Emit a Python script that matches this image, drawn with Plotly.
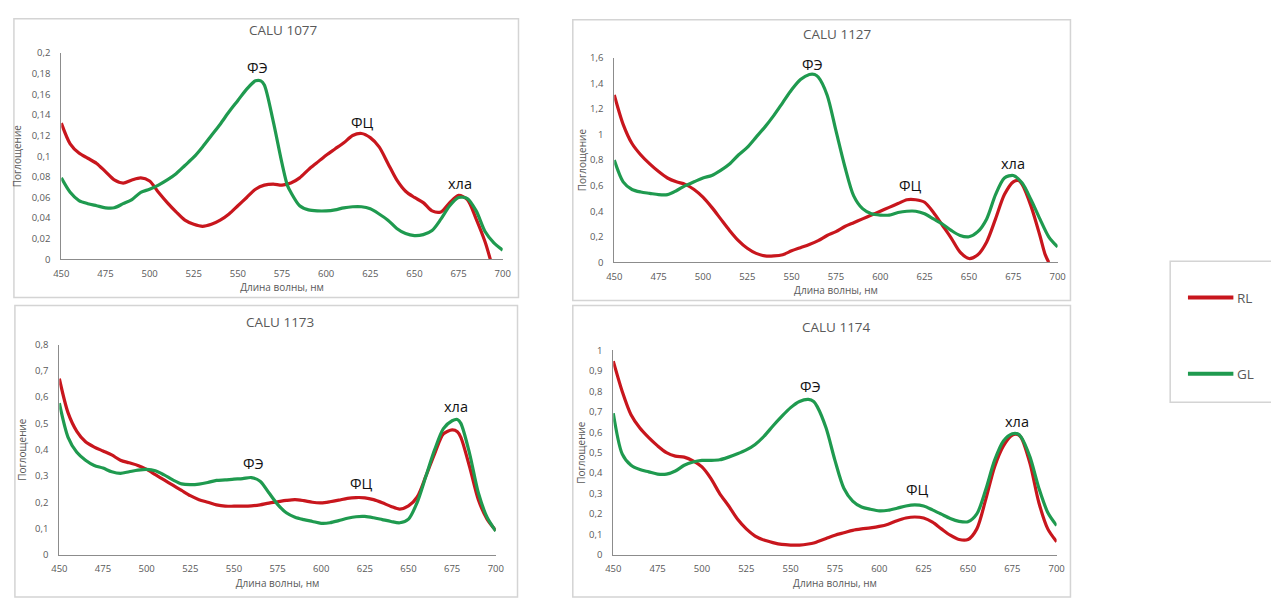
import plotly.graph_objects as go

W, H = 1271, 599

# ---- data -------------------------------------------------------------
wl_1077_rl = [450, 455, 460, 465, 470, 475, 480, 485, 490, 495, 500, 505, 510, 515, 520, 525, 530,
              535, 540, 545, 550, 555, 560, 565, 570, 575, 580, 585, 590, 595, 600, 605, 610, 615,
              620, 625, 630, 635, 640, 645, 650, 655, 660, 665, 670, 675, 680, 685, 690, 693]
rl_1077 = [0.132, 0.112, 0.103, 0.098, 0.093, 0.085, 0.077, 0.074, 0.077, 0.079, 0.076, 0.065,
           0.055, 0.046, 0.038, 0.034, 0.032, 0.034, 0.038, 0.044, 0.052, 0.060, 0.068, 0.072,
           0.073, 0.072, 0.074, 0.079, 0.087, 0.094, 0.101, 0.107, 0.113, 0.120, 0.122, 0.118,
           0.109, 0.093, 0.077, 0.066, 0.060, 0.055, 0.047, 0.046, 0.055, 0.062, 0.058, 0.039,
           0.017, 0.0]
wl_1077_gl = [450, 455, 460, 465, 470, 475, 480, 485, 490, 495, 500, 505, 510, 515, 520, 525, 530,
              535, 540, 545, 550, 555, 560, 563, 565, 570, 575, 578, 580, 585, 590, 595, 600, 605,
              610, 615, 620, 625, 630, 635, 640, 645, 650, 655, 660, 665, 670, 675, 680, 685, 690,
              695, 700]
gl_1077 = [0.079, 0.065, 0.057, 0.054, 0.052, 0.050, 0.050, 0.054, 0.058, 0.065, 0.068, 0.072,
           0.077, 0.083, 0.091, 0.099, 0.109, 0.120, 0.131, 0.143, 0.154, 0.165, 0.173, 0.173,
           0.169, 0.134, 0.093, 0.072, 0.065, 0.052, 0.048, 0.047, 0.047, 0.048, 0.050, 0.051,
           0.051, 0.049, 0.044, 0.038, 0.030, 0.025, 0.023, 0.024, 0.028, 0.039, 0.052, 0.060,
           0.059, 0.047, 0.027, 0.016, 0.009]

wl_1127_rl = [450, 455, 460, 465, 470, 475, 480, 485, 490, 495, 500, 505, 510, 515, 520, 525, 530,
              535, 540, 545, 550, 555, 560, 565, 570, 575, 580, 585, 590, 595, 600, 605, 610, 615,
              620, 625, 630, 635, 640, 645, 650, 655, 660, 665, 670, 675, 678, 680, 685, 690, 693,
              695]
rl_1127 = [1.31, 1.08, 0.93, 0.84, 0.77, 0.71, 0.66, 0.63, 0.61, 0.57, 0.51, 0.43, 0.34, 0.25,
           0.17, 0.11, 0.07, 0.05, 0.05, 0.06, 0.09, 0.115, 0.14, 0.17, 0.21, 0.24, 0.28, 0.31,
           0.34, 0.37, 0.40, 0.43, 0.46, 0.49, 0.49, 0.47, 0.39, 0.29, 0.19, 0.08, 0.03, 0.06,
           0.16, 0.34, 0.53, 0.63, 0.64, 0.61, 0.44, 0.21, 0.06, 0.0]
wl_1127_gl = [450, 455, 460, 465, 470, 475, 480, 485, 490, 495, 500, 505, 510, 515, 520, 525, 530,
              535, 540, 545, 550, 555, 560, 563, 565, 570, 575, 580, 585, 590, 595, 600, 605, 610,
              615, 620, 625, 630, 635, 640, 645, 650, 655, 660, 665, 670, 675, 680, 685, 690, 695,
              700]
gl_1127 = [0.80, 0.63, 0.57, 0.55, 0.54, 0.53, 0.53, 0.56, 0.60, 0.63, 0.66, 0.68, 0.72, 0.77,
           0.84, 0.90, 0.98, 1.06, 1.15, 1.25, 1.35, 1.43, 1.47, 1.47, 1.45, 1.31, 1.03, 0.75,
           0.52, 0.42, 0.38, 0.37, 0.37, 0.39, 0.40, 0.40, 0.38, 0.34, 0.30, 0.25, 0.21, 0.20,
           0.24, 0.34, 0.53, 0.66, 0.68, 0.62, 0.49, 0.34, 0.20, 0.12]

wl_1173 = [450, 455, 460, 465, 470, 475, 480, 485, 490, 495, 500, 505, 510, 515, 520, 525, 530,
           535, 540, 545, 550, 555, 560, 565, 570, 575, 580, 585, 590, 595, 600, 605, 610, 615,
           620, 625, 630, 635, 640, 645, 650, 655, 660, 665, 670, 675, 678, 680, 685, 690, 695, 700]
rl_1173 = [0.67, 0.54, 0.47, 0.43, 0.41, 0.395, 0.38, 0.36, 0.35, 0.34, 0.325, 0.305, 0.285,
           0.265, 0.245, 0.225, 0.21, 0.20, 0.19, 0.185, 0.185, 0.185, 0.186, 0.19, 0.197, 0.202,
           0.207, 0.21, 0.206, 0.20, 0.198, 0.202, 0.208, 0.215, 0.218, 0.217, 0.21, 0.198, 0.184,
           0.174, 0.186, 0.22, 0.30, 0.385, 0.46, 0.475, 0.468, 0.447, 0.335, 0.21, 0.136, 0.093]
gl_1173 = [0.577, 0.447, 0.39, 0.36, 0.34, 0.33, 0.316, 0.31, 0.316, 0.322, 0.325, 0.32, 0.304,
           0.285, 0.27, 0.267, 0.269, 0.275, 0.283, 0.285, 0.288, 0.29, 0.294, 0.28, 0.236, 0.192,
           0.16, 0.143, 0.134, 0.127, 0.12, 0.122, 0.13, 0.139, 0.145, 0.146, 0.141, 0.134, 0.127,
           0.122, 0.136, 0.20, 0.30, 0.40, 0.48, 0.51, 0.515, 0.50, 0.385, 0.236, 0.143, 0.09]

wl_1174 = [450, 455, 460, 465, 470, 475, 480, 485, 490, 495, 500, 505, 510, 515, 520, 525, 530,
           535, 540, 545, 550, 555, 560, 563, 565, 570, 575, 580, 585, 590, 595, 600, 605, 610,
           615, 620, 625, 630, 635, 640, 645, 650, 655, 660, 665, 670, 675, 678, 680, 685, 690,
           695, 700]
rl_1174 = [0.947, 0.80, 0.685, 0.62, 0.573, 0.533, 0.50, 0.483, 0.478, 0.46, 0.43, 0.374, 0.30,
           0.24, 0.175, 0.127, 0.092, 0.072, 0.06, 0.051, 0.048, 0.048, 0.053, 0.058, 0.064, 0.08,
           0.096, 0.108, 0.12, 0.127, 0.132, 0.139, 0.15, 0.167, 0.18, 0.185, 0.18, 0.16, 0.127,
           0.096, 0.075, 0.075, 0.127, 0.27, 0.43, 0.533, 0.586, 0.589, 0.573, 0.446, 0.255,
           0.127, 0.064]
gl_1174 = [0.693, 0.494, 0.438, 0.417, 0.406, 0.395, 0.395, 0.41, 0.438, 0.454, 0.462, 0.462,
           0.465, 0.478, 0.494, 0.513, 0.54, 0.58, 0.63, 0.677, 0.72, 0.75, 0.76, 0.75, 0.725,
           0.62, 0.462, 0.326, 0.263, 0.234, 0.223, 0.215, 0.218, 0.228, 0.239, 0.244, 0.239,
           0.22, 0.199, 0.178, 0.164, 0.162, 0.20, 0.318, 0.462, 0.557, 0.592, 0.592, 0.576,
           0.478, 0.326, 0.207, 0.143]

x_ticks = [450, 475, 500, 525, 550, 575, 600, 625, 650, 675, 700]
y_ticks_1077 = [0, 0.02, 0.04, 0.06, 0.08, 0.1, 0.12, 0.14, 0.16, 0.18, 0.2]
y_ticks_1127 = [0, 0.2, 0.4, 0.6, 0.8, 1, 1.2, 1.4, 1.6]
y_ticks_1173 = [0, 0.1, 0.2, 0.3, 0.4, 0.5, 0.6, 0.7, 0.8]
y_ticks_1174 = [0, 0.1, 0.2, 0.3, 0.4, 0.5, 0.6, 0.7, 0.8, 0.9, 1]

# peak labels: (text, wavelength, absorbance)
peaks_1077 = [("ФЭ", 561, 0.186), ("ФЦ", 620.5, 0.133), ("хла", 676, 0.074)]
peaks_1127 = [("ФЭ", 562, 1.55), ("ФЦ", 617, 0.60), ("хла", 675, 0.77)]
peaks_1173 = [("ФЭ", 561.5, 0.347), ("ФЦ", 623, 0.27), ("хла", 677, 0.565)]
peaks_1174 = [("ФЭ", 561, 0.825), ("ФЦ", 621.5, 0.32), ("хла", 677.5, 0.653)]

RED = "#c8161d"
GREEN = "#1f9a4f"
GREY_TXT = "#595959"
FONT = "Open Sans, Liberation Sans, sans-serif"


def px_x(p):
    return p / W


def px_y(p):
    return 1 - p / H


def fmt(v):
    return ("%g" % v).replace(".", ",")


panels = [
    # title, rl x, rl y, gl x, gl y, yticks, peaks,
    # plot area px (x0, x1, ybottom, ytop), frame px, title y, y-title standoff
    ("CALU 1077", wl_1077_rl, rl_1077, wl_1077_gl, gl_1077, y_ticks_1077, peaks_1077,
     (54, 501, 258, 47), (6, 517, 12, 297), 23, 8),
    ("CALU 1127", wl_1127_rl, rl_1127, wl_1127_gl, gl_1127, y_ticks_1127, peaks_1127,
     (614, 1063, 261, 52), (572, 1076, 13, 300), 28, 1),
    ("CALU 1173", wl_1173, rl_1173, wl_1173, gl_1173, y_ticks_1173, peaks_1173,
     (52, 494, 560, 345), (7, 516, 305, 603), 322, 6),
    ("CALU 1174", wl_1174, rl_1174, wl_1174, gl_1174, y_ticks_1174, peaks_1174,
     (613, 1062, 560, 351), (572, 1076, 305, 603), 327, 1),
]

fig = go.Figure()
shapes = []
annotations = []

for i, (title, xr, yr, xg, yg, yt, peaks, area, box, title_y, ystand) in enumerate(panels, start=1):
    xa = "x" if i == 1 else "x%d" % i
    ya = "y" if i == 1 else "y%d" % i
    fig.add_trace(go.Scatter(x=xr, y=yr, mode="lines", name="RL", showlegend=False,
                             line=dict(color=RED, width=3.2, shape="spline", smoothing=0.8),
                             xaxis=xa, yaxis=ya))
    fig.add_trace(go.Scatter(x=xg, y=yg, mode="lines", name="GL", showlegend=False,
                             line=dict(color=GREEN, width=3.2, shape="spline", smoothing=0.8),
                             xaxis=xa, yaxis=ya))

    x0, x1, yb, ytop = area
    xkey = "xaxis" if i == 1 else "xaxis%d" % i
    ykey = "yaxis" if i == 1 else "yaxis%d" % i
    fig.layout[xkey] = dict(
        domain=[px_x(x0), px_x(x1)], range=[450, 700], anchor=ya,
        tickvals=x_ticks, ticktext=[str(t) for t in x_ticks],
        showgrid=False, zeroline=False, showline=True, linecolor="#8c8c8c", linewidth=1,
        ticks="outside", ticklen=5, tickcolor="rgba(0,0,0,0)",
        tickfont=dict(family=FONT, size=9.5, color=GREY_TXT),
        title=dict(text="Длина волны, нм", font=dict(family=FONT, size=10, color=GREY_TXT),
                   standoff=5),
        fixedrange=True,
    )
    fig.layout[ykey] = dict(
        domain=[px_y(yb), px_y(ytop)], range=[0, yt[-1]], anchor=xa,
        tickvals=yt, ticktext=[fmt(t) for t in yt],
        showgrid=False, zeroline=False, showline=True, linecolor="#8c8c8c", linewidth=1,
        ticks="outside", ticklen=8, tickcolor="rgba(0,0,0,0)",
        tickfont=dict(family=FONT, size=9.5, color=GREY_TXT),
        title=dict(text="Поглощение", font=dict(family=FONT, size=10, color=GREY_TXT),
                   standoff=ystand),
        fixedrange=True,
    )

    # panel frame
    bx0, bx1, by0, by1 = box
    shapes.append(dict(type="rect", xref="paper", yref="paper",
                       x0=px_x(bx0), x1=px_x(bx1), y0=px_y(by1), y1=px_y(by0),
                       line=dict(color="#d4d4d4", width=1.5), fillcolor="rgba(0,0,0,0)",
                       layer="below"))
    # panel title
    annotations.append(dict(text=title, xref="paper", yref="paper",
                            x=px_x((x0 + x1) / 2 + 2), y=px_y(title_y), showarrow=False,
                            xanchor="center", yanchor="middle",
                            font=dict(family=FONT, size=13.5, color=GREY_TXT)))
    # peak labels
    for txt, px, py in peaks:
        annotations.append(dict(text=txt, x=px, y=py, xref=xa, yref=ya, showarrow=False,
                                xanchor="center", yanchor="middle",
                                font=dict(family=FONT, size=14.5, color="#111111")))

# legend box with the two series keys
shapes.append(dict(type="rect", xref="paper", yref="paper",
                   x0=px_x(1177), x1=px_x(1290), y0=px_y(404), y1=px_y(260),
                   line=dict(color="#d4d4d4", width=1.5), fillcolor="rgba(0,0,0,0)"))
for name, color, ly in [("RL", RED, 297), ("GL", GREEN, 375)]:
    shapes.append(dict(type="line", xref="paper", yref="paper",
                       x0=px_x(1195), x1=px_x(1241), y0=px_y(ly), y1=px_y(ly),
                       line=dict(color=color, width=4)))
    annotations.append(dict(text=name, xref="paper", yref="paper", x=px_x(1243), y=px_y(ly),
                            showarrow=False, xanchor="left", yanchor="middle",
                            font=dict(family=FONT, size=13.5, color=GREY_TXT)))

fig.update_layout(
    width=W, height=H, margin=dict(l=0, r=0, t=0, b=0),
    paper_bgcolor="white", plot_bgcolor="white",
    shapes=shapes, annotations=annotations, showlegend=False,
)

fig.write_html("out.html", config={"displayModeBar": False})
